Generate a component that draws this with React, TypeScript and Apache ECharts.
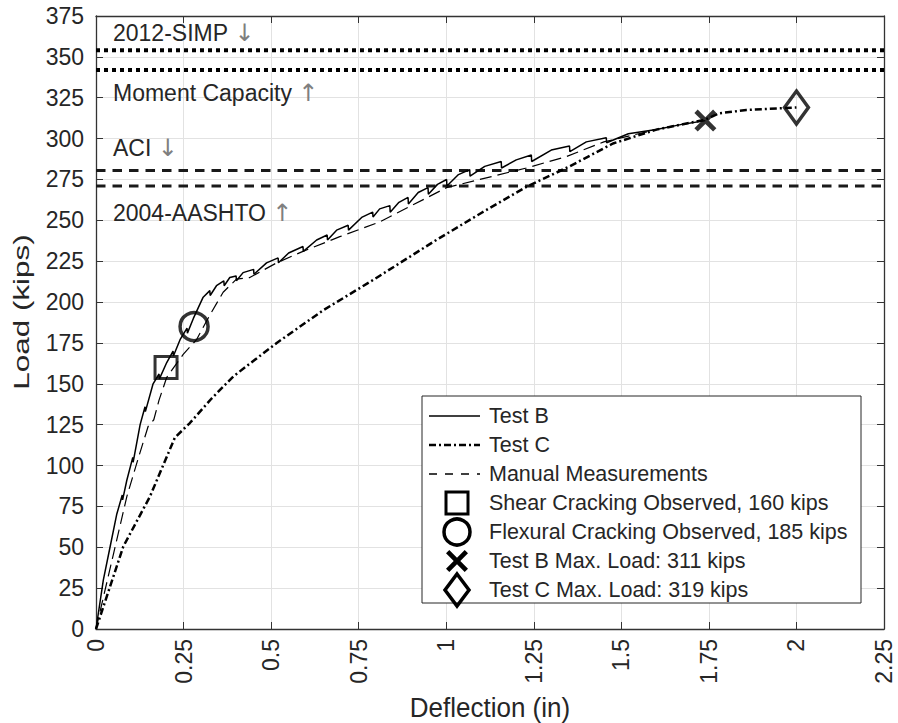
import React, { useEffect, useRef } from "react";
import * as echarts from "echarts";

const FONT = "'Liberation Sans', Arial, Helvetica, sans-serif";

const xTickLabels = ["0", "0.25", "0.5", "0.75", "1", "1.25", "1.5", "1.75", "2", "2.25"];
const yTickLabels = ["0", "25", "50", "75", "100", "125", "150", "175", "200", "225", "250", "275", "300", "325", "350", "375"];

// Test B: deflection (in), load (kips)
const testB: [number, number][] = [
  [0, 0], [0.021, 30], [0.04, 50], [0.059, 70], [0.075, 82], [0.076, 79], [0.088, 91],
  [0.105, 105], [0.106, 102], [0.126, 125], [0.14, 136], [0.141, 133], [0.163, 150],
  [0.18, 156], [0.181, 153], [0.202, 163], [0.22, 170], [0.221, 167], [0.24, 177],
  [0.26, 184], [0.261, 181], [0.278, 190], [0.306, 203], [0.325, 207], [0.326, 204],
  [0.344, 210], [0.365, 213], [0.366, 210], [0.382, 215], [0.4, 216], [0.401, 213],
  [0.42, 218], [0.45, 220], [0.451, 217], [0.487, 224], [0.52, 227], [0.521, 224],
  [0.55, 230], [0.591, 234], [0.592, 231], [0.63, 238], [0.66, 241], [0.661, 238],
  [0.687, 244], [0.72, 247], [0.721, 244], [0.76, 252], [0.79, 255], [0.791, 252],
  [0.81, 257], [0.839, 259], [0.84, 255], [0.865, 261], [0.891, 264], [0.892, 260],
  [0.92, 267], [0.948, 270], [0.949, 266], [0.975, 272], [1.001, 275], [1.002, 271],
  [1.035, 278], [1.067, 281], [1.068, 277], [1.11, 283], [1.157, 286], [1.158, 282],
  [1.2, 287], [1.243, 290], [1.244, 286], [1.3, 293], [1.352, 295.5], [1.353, 292],
  [1.4, 298], [1.457, 300.5], [1.458, 297.5], [1.52, 303], [1.6, 305.5], [1.68, 309],
  [1.74, 311],
];

// Test C
const testC: [number, number][] = [
  [0, 0], [0.078, 50.5], [0.154, 81], [0.225, 117], [0.268, 126], [0.33, 141],
  [0.392, 154.5], [0.516, 175], [0.649, 195], [0.791, 213.5], [0.972, 238],
  [1.1, 254.5], [1.229, 270.5], [1.352, 283], [1.476, 297], [1.6, 305.5],
  [1.738, 311.5], [1.78, 315.5], [1.857, 317.5], [1.961, 318.6], [2.0, 319],
];

// Manual measurements
const manual: [number, number][] = [
  [0, 0], [0.05, 46], [0.088, 81], [0.12, 104], [0.149, 124], [0.165, 128],
  [0.18, 140], [0.202, 154], [0.249, 168], [0.287, 177], [0.325, 192], [0.363, 206],
  [0.401, 214], [0.439, 215], [0.516, 224], [0.591, 231], [0.696, 240], [0.81, 249],
  [1.001, 270], [1.229, 282], [1.343, 289], [1.45, 298], [1.6, 305.5],
];

const shearCracking: [number, number][] = [[0.2, 160]];
const flexuralCracking: [number, number][] = [[0.28, 185]];
const testBMax: [number, number][] = [[1.74, 311]];
const testCMax: [number, number][] = [[2.0, 319]];

const legendNames = [
  "Test B",
  "Test C",
  "Manual Measurements",
  "Shear Cracking Observed, 160 kips",
  "Flexural Cracking Observed, 185 kips",
  "Test B Max. Load: 311 kips",
  "Test C Max. Load: 319 kips",
];

const capacityNames = ["2012-SIMP", "Moment Capacity", "ACI", "2004-AASHTO"];
const capacityLoads = [354, 342, 280.5, 271];
const capacityArrows = ["↓", "↑", "↓", "↑"];
const capacityDotted = [true, true, false, false];
const annotationY = [32.5, 92.5, 148, 212.5];

const X_MIN = 0, X_MAX = 2.25, X_INT = 0.25;
const Y_MIN = 0, Y_MAX = 375, Y_INT = 25;

// X marker outline in a 100x100 box
const X_POINTS: [number, number][] = [
  [15, 0], [50, 35], [85, 0], [100, 15], [65, 50], [100, 85],
  [85, 100], [50, 65], [15, 100], [0, 85], [35, 50], [0, 15],
];
const X_SHAPE = "path://M" + X_POINTS.map((p) => p.join(",")).join(" L") + " Z";

export default function App() {
  const ref = useRef<HTMLDivElement>(null);
  useEffect(() => {
    if (!ref.current) return;
    const chart = echarts.init(ref.current, undefined, { renderer: "svg" });
    const axisColor = "#333333";
    const textColor = "#262626";

    const baseX = { type: "value", min: X_MIN, max: X_MAX, interval: X_INT };
    const baseY = { type: "value", min: Y_MIN, max: Y_MAX, interval: Y_INT };

    const capacitySeries = capacityLoads.map((v, i) => ({
      type: "line",
      name: capacityNames[i],
      data: [[X_MIN, v], [X_MAX, v]],
      symbol: "none",
      silent: true,
      z: 2,
      lineStyle: capacityDotted[i]
        ? { color: "#000", width: 4, type: [4, 4], cap: "butt" }
        : { color: "#1a1a1a", width: 3, type: [9.5, 7], cap: "butt" },
    }));

    const hollow = (bw: number) => ({
      color: "rgba(0,0,0,0)",
      borderColor: "#000",
      borderWidth: bw,
    });

    // ---- legend drawn as graphic ----
    const LX = 422, LY = 396, LW = 439, LH = 207;
    const rowY = (i: number) => 416 + i * 29;
    const lineX1 = 429, lineX2 = 480, symX = 457, textX = 489;
    const legendEls: any[] = [
      {
        type: "rect",
        shape: { x: LX, y: LY, width: LW, height: LH },
        style: { fill: "#fff", stroke: "#262626", lineWidth: 1 },
        z: 20,
      },
      {
        type: "line",
        shape: { x1: lineX1, y1: rowY(0), x2: lineX2, y2: rowY(0) },
        style: { stroke: "#000", lineWidth: 1.4 },
        z: 21,
      },
      {
        type: "line",
        shape: { x1: lineX1, y1: rowY(1), x2: lineX2, y2: rowY(1) },
        style: { stroke: "#000", lineWidth: 2.5, lineDash: [7, 3, 2, 3] },
        z: 21,
      },
      {
        type: "line",
        shape: { x1: lineX1, y1: rowY(2), x2: lineX2, y2: rowY(2) },
        style: { stroke: "#000", lineWidth: 1.3, lineDash: [8, 8] },
        z: 21,
      },
      {
        type: "rect",
        shape: { x: symX - 11, y: rowY(3) - 11, width: 22, height: 22 },
        style: { fill: "none", stroke: "#000", lineWidth: 3 },
        z: 21,
      },
      {
        type: "circle",
        shape: { cx: symX, cy: rowY(4), r: 13 },
        style: { fill: "none", stroke: "#000", lineWidth: 3.5 },
        z: 21,
      },
      {
        type: "polygon",
        shape: { points: X_POINTS.map(([px, py]) => [symX - 11 + (px * 22) / 100, rowY(5) - 11 + (py * 22) / 100]) },
        style: { fill: "#000" },
        z: 21,
      },
      {
        type: "polygon",
        shape: {
          points: [
            [symX, rowY(6) - 16],
            [symX + 12, rowY(6)],
            [symX, rowY(6) + 16],
            [symX - 12, rowY(6)],
          ],
        },
        style: { fill: "none", stroke: "#000", lineWidth: 3.5 },
        z: 21,
      },
      ...legendNames.map((n, i) => ({
        type: "text",
        x: textX,
        y: rowY(i),
        z: 21,
        style: {
          text: n,
          fontSize: 21.5,
          fontFamily: FONT,
          fill: textColor,
          align: "left",
          verticalAlign: "middle",
        },
      })),
    ];

    chart.setOption({
      animation: false,
      grid: { left: 96, right: 14, top: 16, bottom: 94, outerBoundsMode: "none" },
      xAxis: [
        {
          ...baseX,
          position: "bottom",
          axisLine: { show: true, onZero: false, lineStyle: { color: axisColor, width: 1.3 } },
          axisTick: { show: true, inside: true, length: 7, lineStyle: { color: axisColor } },
          axisLabel: {
            rotate: 90,
            margin: 10,
            fontSize: 23,
            color: textColor,
            fontFamily: FONT,
            showMinLabel: true,
            showMaxLabel: true,
            formatter: (v: number) => xTickLabels[Math.round((v - X_MIN) / X_INT)] ?? String(v),
          },
          splitLine: { show: true, lineStyle: { color: "#e2e2e2", width: 1 } },
        },
        {
          ...baseX,
          position: "top",
          axisLine: { show: true, onZero: false, lineStyle: { color: axisColor, width: 1.3 } },
          axisTick: { show: true, inside: true, length: 7, lineStyle: { color: axisColor } },
          axisLabel: { show: false },
          splitLine: { show: false },
        },
      ],
      yAxis: [
        {
          ...baseY,
          position: "left",
          axisLine: { show: true, onZero: false, lineStyle: { color: axisColor, width: 1.3 } },
          axisTick: { show: true, inside: true, length: 7, lineStyle: { color: axisColor } },
          axisLabel: {
            margin: 12,
            fontSize: 23,
            color: textColor,
            fontFamily: FONT,
            showMinLabel: true,
            showMaxLabel: true,
            formatter: (v: number) => yTickLabels[Math.round((v - Y_MIN) / Y_INT)] ?? String(v),
          },
          splitLine: { show: true, lineStyle: { color: "#e2e2e2", width: 1 } },
        },
        {
          ...baseY,
          position: "right",
          axisLine: { show: true, onZero: false, lineStyle: { color: axisColor, width: 1.3 } },
          axisTick: { show: true, inside: true, length: 7, lineStyle: { color: axisColor } },
          axisLabel: { show: false },
          splitLine: { show: false },
        },
      ],
      series: [
        ...capacitySeries,
        {
          type: "line",
          name: legendNames[0],
          data: testB,
          symbol: "none",
          showSymbol: false,
          z: 3,
          lineStyle: { color: "#000", width: 1.5 },
        },
        {
          type: "line",
          name: legendNames[1],
          data: testC,
          symbol: "none",
          showSymbol: false,
          z: 3,
          lineStyle: { color: "#000", width: 2.5, type: [7, 3, 2, 3], cap: "butt" },
        },
        {
          type: "line",
          name: legendNames[2],
          data: manual,
          symbol: "none",
          showSymbol: false,
          z: 3,
          lineStyle: { color: "#000", width: 1.2, type: [12, 6], cap: "butt" },
        },
        {
          type: "scatter",
          name: legendNames[3],
          data: shearCracking,
          symbol: "rect",
          symbolSize: 22,
          z: 5,
          itemStyle: hollow(3),
        },
        {
          type: "scatter",
          name: legendNames[4],
          data: flexuralCracking,
          symbol: "circle",
          symbolSize: 28,
          z: 5,
          itemStyle: hollow(3.5),
        },
        {
          type: "scatter",
          name: legendNames[5],
          data: testBMax,
          symbol: X_SHAPE,
          symbolSize: 22,
          z: 5,
          itemStyle: { color: "#000" },
        },
        {
          type: "scatter",
          name: legendNames[6],
          data: testCMax,
          symbol: "diamond",
          symbolSize: [24, 33],
          z: 5,
          itemStyle: hollow(3.5),
        },
      ],
      graphic: [
        ...capacityNames.map((n, i) => ({
          type: "text",
          x: 113,
          y: annotationY[i],
          z: 10,
          style: {
            text: `{t|${n} }{a|${capacityArrows[i]}}`,
            align: "left",
            verticalAlign: "middle",
            rich: {
              t: { fontSize: 23, fill: textColor, fontFamily: FONT },
              a: { fontSize: 24, fill: "#7f7f7f", fontFamily: "'DejaVu Sans', sans-serif" },
            },
          },
        })),
        {
          type: "text",
          x: 490,
          y: 708,
          scaleY: 1.06,
          style: {
            text: "Deflection (in)",
            fontSize: 26,
            fontFamily: FONT,
            fill: textColor,
            align: "center",
            verticalAlign: "middle",
          },
        },
        {
          type: "text",
          x: 21,
          y: 312,
          rotation: Math.PI / 2,
          scaleX: 1.43,
          style: {
            text: "Load (kips)",
            fontSize: 22,
            fontFamily: FONT,
            fill: textColor,
            align: "center",
            verticalAlign: "middle",
          },
        },
        ...legendEls,
      ],
    });
    return () => chart.dispose();
  }, []);

  return (
    <div
      ref={ref}
      style={{ position: "fixed", left: 0, top: 0, width: 898, height: 723, background: "#fff" }}
    />
  );
}
